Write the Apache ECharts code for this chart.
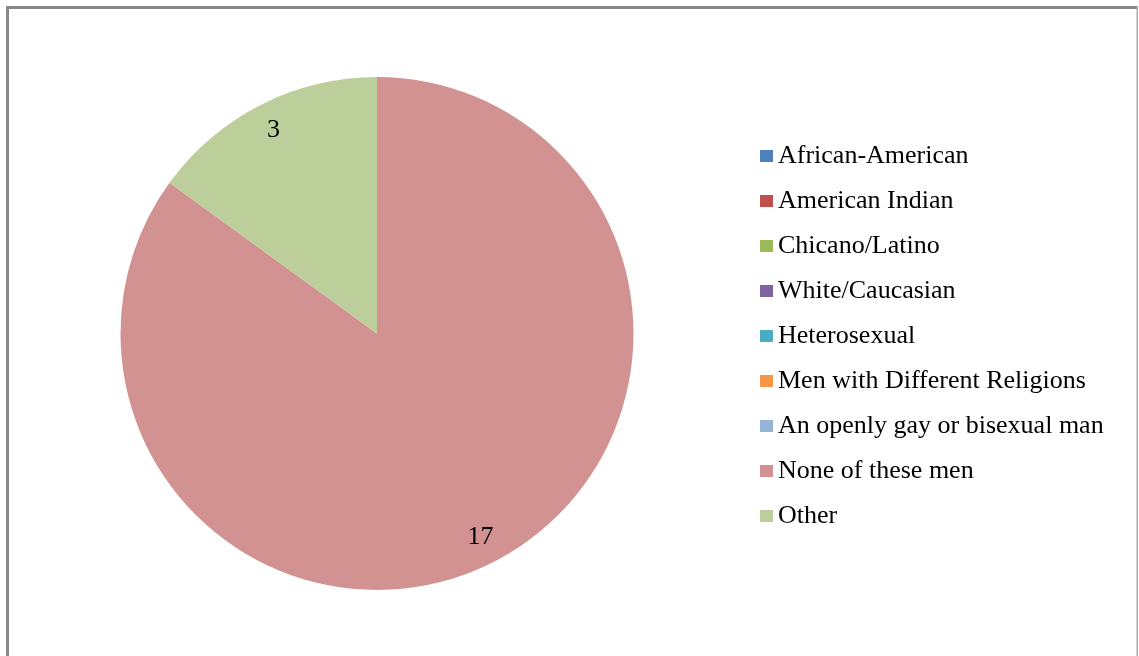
<!DOCTYPE html>
<html>
<head>
<meta charset="utf-8">
<script src="https://cdn.jsdelivr.net/npm/echarts@6/dist/echarts.min.js"></script>
<style>
html,body{margin:0;padding:0;background:#fff;}
#c{width:1139px;height:656px;}
</style>
</head>
<body>
<div id="c"></div>
<script>
const categories = ["African-American","American Indian","Chicano/Latino","White/Caucasian","Heterosexual","Men with Different Religions","An openly gay or bisexual man","None of these men","Other"];
const values = [0,0,0,0,0,0,0,17,3];
const colors = ["#4F81BD","#C0504D","#9BBB59","#8064A2","#4BACC6","#F79646","#95B3D7","#D39292","#BCCF9A"];

const chart = echarts.init(document.getElementById('c'), null, {renderer:'canvas'});
const mainData = categories.map((n,i)=>({name:n, value:values[i], itemStyle:{color:colors[i]}}));
const labelData = categories.map((n,i)=>({name:n, value:values[i], label:{show: values[i] > 0}}));

chart.setOption({
  animation:false,
  backgroundColor:'#fff',
  color: colors,
  legend:{
    orient:'vertical',
    left:760,
    top:143,
    padding:0,
    data: categories,
    icon:'rect',
    itemWidth:13,
    itemHeight:12,
    itemGap:19,
    textStyle:{fontFamily:'Liberation Serif, Times New Roman, serif', fontSize:26, color:'#000', lineHeight:26},
    selectedMode:false
  },
  graphic:[
    {type:'rect', shape:{x:6,y:6,width:3,height:660}, style:{fill:'#888'}, silent:true},
    {type:'rect', shape:{x:6,y:6,width:1132,height:3}, style:{fill:'#888'}, silent:true},
    {type:'rect', shape:{x:1136.5,y:6,width:1.5,height:660}, style:{fill:'#aaa'}, silent:true}
  ],
  series:[
    {
      type:'pie',
      center:[377,333.5],
      radius:[0,256.5],
      startAngle:90,
      clockwise:true,
      data: mainData,
      label:{show:false},
      labelLine:{show:false},
      itemStyle:{borderWidth:0},
      silent:true
    },
    {
      type:'pie',
      center:[377,333.5],
      radius:[194,256.5],
      startAngle:90,
      clockwise:true,
      data: labelData,
      itemStyle:{color:'rgba(0,0,0,0)', borderWidth:0},
      label:{show:true, position:'inside', formatter:'{c}', fontFamily:'Liberation Serif, Times New Roman, serif', fontSize:26, color:'#000'},
      labelLine:{show:false},
      silent:true
    }
  ]
});
</script>
</body>
</html>
